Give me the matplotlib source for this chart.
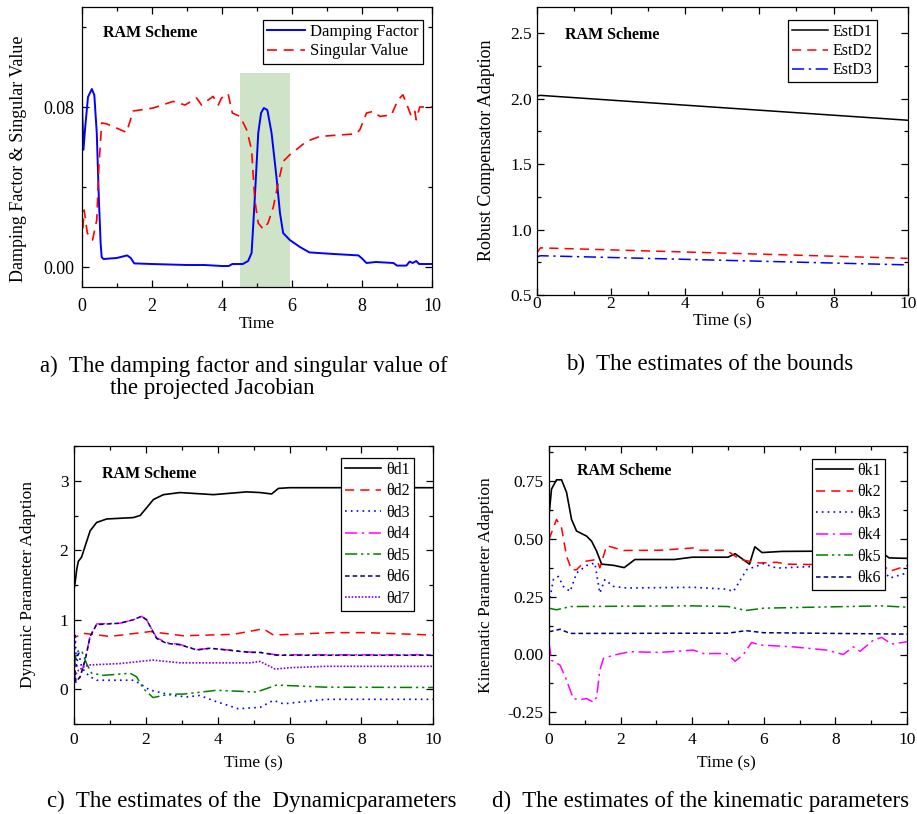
import matplotlib
matplotlib.use("Agg")
import matplotlib.pyplot as plt
from matplotlib.ticker import MultipleLocator

plt.rcParams["font.family"] = ["Liberation Serif", "DejaVu Serif"]
plt.rcParams["mathtext.fontset"] = "stix"

# ---- a) damping factor and singular value ----
t_df = [0, 0.02, 0.05, 0.1, 0.18, 0.29, 0.36, 0.43, 0.49, 0.54,
        0.57, 0.62, 1.0, 1.3, 1.4, 1.5, 2.0, 3.0, 3.5, 4.0,
        4.2, 4.3, 4.6, 4.75, 4.85, 4.94, 5.04, 5.12, 5.2, 5.3,
        5.42, 5.56, 5.66, 5.75, 5.94, 6.23, 6.5, 7.2, 7.9, 8.0,
        8.13, 8.4, 8.9, 9.0, 9.27, 9.36, 9.45, 9.55, 9.63, 10]
damping = [0.092, 0.075, 0.0586, 0.070, 0.085, 0.089, 0.086, 0.067, 0.034, 0.012,
           0.005, 0.004, 0.0045, 0.0058, 0.0045, 0.0018, 0.0015, 0.001, 0.001, 0.0005,
           0.0005, 0.0015, 0.0015, 0.003, 0.007, 0.034, 0.067, 0.077, 0.0795, 0.0785,
           0.067, 0.045, 0.027, 0.017, 0.0135, 0.010, 0.0073, 0.0065, 0.0058, 0.0043,
           0.002, 0.0025, 0.002, 0.0007, 0.0007, 0.0027, 0.002, 0.003, 0.0015, 0.0015]
t_sv = [0, 0.07, 0.16, 0.31, 0.43, 0.49, 0.57, 0.71, 1.28, 1.47,
        2.04, 2.61, 2.95, 3.28, 3.42, 3.75, 3.9, 3.99, 4.18, 4.3,
        4.52, 4.71, 4.85, 4.94, 5.04, 5.18, 5.32, 5.47, 5.61, 5.75,
        5.94, 6.42, 6.8, 7.84, 7.94, 8.13, 8.32, 8.51, 8.84, 9.03,
        9.17, 9.32, 9.41, 9.51, 9.55, 9.65, 10]
singular = [0.011, 0.0285, 0.017, 0.0135, 0.0235, 0.050, 0.072, 0.0716, 0.0673, 0.078,
            0.0795, 0.0828, 0.081, 0.0845, 0.081, 0.0853, 0.081, 0.0845, 0.0866, 0.077,
            0.0753, 0.0686, 0.0586, 0.0336, 0.022, 0.0189, 0.022, 0.030, 0.042, 0.0528,
            0.0561, 0.0628, 0.0653, 0.0666, 0.0686, 0.077, 0.0778, 0.0753, 0.076, 0.0836,
            0.0861, 0.0795, 0.0753, 0.0778, 0.0736, 0.08, 0.08]
span_t = [4.52, 5.96]
span_top = 0.097

# ---- b) bounds ----
t_b = [0, 0.1, 10]
est_d1 = [2.02, 2.025, 1.835]
est_d2 = [0.82, 0.86, 0.78]
est_d3 = [0.79, 0.80, 0.73]

# ---- c) dynamic parameters ----
t_d1 = [0, 0.03, 0.075, 0.12, 0.21, 0.31, 0.45, 0.63, 0.91, 1.65, 1.84,
        2.02, 2.21, 2.49, 2.95, 3.88, 4.81, 5.18, 5.5, 5.69, 6.0, 10]
th_d1 = [1.43, 1.53, 1.72, 1.84, 1.90, 2.06, 2.28, 2.40, 2.45, 2.47, 2.50,
         2.61, 2.73, 2.80, 2.83, 2.80, 2.84, 2.83, 2.81, 2.89, 2.90, 2.90]
t_d2 = [0, 0.03, 0.08, 0.26, 1.0, 2.12, 3.04, 4.43, 5.27, 5.55, 7.2, 8.14, 10]
th_d2 = [0.83, 0.75, 0.76, 0.805, 0.76, 0.83, 0.77, 0.79, 0.87, 0.78, 0.815, 0.815, 0.78]
t_d3 = [0, 0.03, 0.07, 0.12, 0.2, 0.3, 0.45, 0.63, 1.65, 1.84, 2.1,
        2.76, 3.14, 3.5, 3.97, 4.57, 5.18, 5.55, 5.83, 7.0, 10]
th_d3 = [0.4, 0.8, 0.3, 0.55, 0.35, 0.25, 0.18, 0.13, 0.13, 0.08, -0.01,
         -0.09, -0.11, -0.09, -0.18, -0.28, -0.26, -0.16, -0.21, -0.145, -0.145]
t_d46 = [0, 0.05, 0.17, 0.31, 0.45, 0.63, 1.28, 1.65, 1.88, 2.02,
         2.3, 2.58, 2.95, 3.42, 3.79, 4.9, 5.18, 5.64, 10]
th_d4 = [0.3, 0.12, 0.17, 0.42, 0.77, 0.94, 0.95, 1.0, 1.05, 1.0,
         0.74, 0.67, 0.645, 0.57, 0.59, 0.535, 0.53, 0.495, 0.495]
th_d6 = [0.6, 0.1, 0.18, 0.42, 0.76, 0.93, 0.95, 1.0, 1.05, 1.0,
         0.73, 0.66, 0.64, 0.565, 0.59, 0.53, 0.53, 0.49, 0.49]
t_d5 = [0, 0.07, 0.21, 0.35, 0.49, 0.82, 1.56, 1.74, 1.93, 2.2,
        2.67, 3.04, 3.97, 5.08, 5.64, 7.0, 10]
th_d5 = [0.32, 0.54, 0.56, 0.37, 0.23, 0.2, 0.23, 0.18, 0.01, -0.12,
         -0.07, -0.07, -0.015, -0.04, 0.06, 0.03, 0.025]
t_d7 = [0, 0.12, 0.26, 0.45, 1.28, 2.2, 2.95, 4.9, 5.18, 5.6, 6.0, 7.0, 10]
th_d7 = [0.18, 0.27, 0.32, 0.35, 0.37, 0.42, 0.38, 0.38, 0.40, 0.29, 0.31, 0.33, 0.33]

# ---- d) kinematic parameters ----
t_k1 = [0, 0.07, 0.21, 0.35, 0.49, 0.63, 0.77, 1.05, 1.19, 1.33, 1.47, 1.8, 2.1,
        2.4, 3.5, 4.0, 5.0, 5.2, 5.6, 5.75, 5.95, 6.5, 7.5, 9.3, 9.5, 10]
th_k1 = [0.598, 0.714, 0.754, 0.754, 0.70, 0.583, 0.533, 0.511, 0.489, 0.446, 0.39, 0.385, 0.375,
         0.41, 0.41, 0.42, 0.42, 0.435, 0.39, 0.465, 0.44, 0.445, 0.446, 0.44, 0.417, 0.415]
t_k2 = [0, 0.21, 0.35, 0.49, 0.63, 0.77, 1.0, 1.33, 1.42, 1.61, 2.08, 3.1,
        4.03, 4.2, 4.96, 5.34, 5.7, 5.89, 6.36, 6.64, 7.48, 9.3, 9.52, 10]
th_k2 = [0.497, 0.583, 0.547, 0.424, 0.366, 0.366, 0.402, 0.41, 0.374, 0.47, 0.449, 0.45,
         0.46, 0.45, 0.45, 0.41, 0.40, 0.395, 0.398, 0.39, 0.388, 0.39, 0.359, 0.384]
t_k3 = [0, 0.12, 0.26, 0.4, 0.59, 0.77, 1.05, 1.28, 1.42, 1.56, 1.8,
        2.17, 4.03, 4.96, 5.15, 5.52, 5.99, 6.36, 7.38, 9.3, 9.52, 10]
th_k3 = [0.22, 0.323, 0.337, 0.294, 0.272, 0.352, 0.384, 0.395, 0.265, 0.323, 0.294,
         0.287, 0.29, 0.282, 0.272, 0.366, 0.392, 0.373, 0.38, 0.37, 0.33, 0.352]
t_k4 = [0, 0.07, 0.31, 0.49, 0.68, 0.87, 1.05, 1.24, 1.33, 1.42,
        1.52, 1.8, 2.26, 3.1, 4.03, 4.31, 4.96, 5.2, 5.43, 5.66,
        5.89, 6.82, 7.76, 8.22, 8.5, 8.69, 9.06, 9.29, 9.57, 10]
th_k4 = [0.048, -0.025, -0.046, -0.111, -0.191, -0.195, -0.19, -0.206, -0.184, -0.068,
         -0.017, -0.003, 0.012, 0.009, 0.019, 0.004, 0.004, -0.029, 0.0, 0.052,
         0.041, 0.033, 0.019, 0.0, 0.033, 0.014, 0.062, 0.074, 0.045, 0.055]
t_k5 = [0, 0.21, 0.6, 4.0, 5.0, 5.5, 6.0, 9.3, 10]
th_k5 = [0.20, 0.193, 0.207, 0.21, 0.207, 0.19, 0.20, 0.21, 0.204]
t_k6 = [0, 0.31, 0.59, 5.0, 5.5, 6.0, 10]
th_k6 = [0.098, 0.109, 0.091, 0.092, 0.103, 0.094, 0.088]

W, H = 917, 814
fig = plt.figure(figsize=(W / 100, H / 100), dpi=100)


def box(l, t, r, b):
    # pixel box -> figure fraction
    return [l / W, 1 - b / H, (r - l) / W, (b - t) / H]


def style(ax, ymajor, yminor, xpad, ypad, fs):
    ax.set_xlim(0, 10)
    ax.xaxis.set_major_locator(MultipleLocator(2))
    ax.xaxis.set_minor_locator(MultipleLocator(1))
    ax.yaxis.set_major_locator(MultipleLocator(ymajor))
    ax.yaxis.set_minor_locator(MultipleLocator(yminor))
    ax.tick_params(which="both", direction="in", top=True, right=True, width=0.9)
    ax.tick_params(which="major", length=5, labelsize=fs)
    ax.tick_params(which="minor", length=3)
    ax.tick_params(axis="x", pad=xpad)
    ax.tick_params(axis="y", pad=ypad)
    for s in ax.spines.values():
        s.set_linewidth(0.9)


def legend(ax, x, y, fs, spacing=0.2):
    leg = ax.legend(loc="upper right", bbox_to_anchor=(x, y), fontsize=fs,
                    fancybox=False, edgecolor="black", framealpha=1,
                    handlelength=2.3, handletextpad=0.3, borderpad=0.25,
                    labelspacing=spacing, borderaxespad=0)
    leg.get_frame().set_linewidth(0.9)


def ram(ax, x, y):
    ax.text(x, y, "RAM Scheme", transform=ax.transAxes, fontsize=11.5,
            fontweight="bold", ha="left", va="center")


dash = (0, (6, 4))
dot = (0, (1, 2.5))
dashdot = (0, (8, 3, 1.5, 3))
dashdotdot = (0, (8, 2.5, 1.5, 2.5, 1.5, 2.5))
shortdash = (0, (3, 2))
shortdot = (0, (1, 1))

# a)
ax = fig.add_axes(box(81.7, 7, 432, 287))
ax.fill_between(span_t, -0.01, span_top, color="#cfe3c8", lw=0)
ax.plot(t_df, damping, color="#0000ff", lw=1.4, label="Damping Factor")
ax.plot(t_sv, singular, color="#ff0000", lw=1.2, ls=dash, label="Singular Value")
ax.set_ylim(-0.01, 0.13)
style(ax, 0.08, 0.04, 8, 5.5, 13)
ax.yaxis.set_major_formatter(matplotlib.ticker.FormatStrFormatter("%.2f"))
legend(ax, 0.974, 0.954, 12)
ram(ax, 0.062, 0.907)
fig.text(19 / W, 1 - 159 / H, "Damping Factor & Singular Value", rotation=90,
         ha="center", va="center", fontsize=13)
fig.text(257 / W, 1 - 324 / H, "Time", ha="center", va="center", fontsize=12.5)

# b)
ax = fig.add_axes(box(536.7, 7, 907.7, 295))
ax.plot(t_b, est_d1, color="black", lw=1.1, label="EstD1")
ax.plot(t_b, est_d2, color="#ff0000", lw=1.1, ls=dash, label="EstD2")
ax.plot(t_b, est_d3, color="#0000ff", lw=1.1, ls=dashdot, label="EstD3")
ax.set_ylim(0.5, 2.7)
style(ax, 0.5, 0.25, 0.5, 3.5, 12.5)
ax.yaxis.set_major_formatter(matplotlib.ticker.FormatStrFormatter("%.1f"))
legend(ax, 0.917, 0.955, 11.5)
ram(ax, 0.076, 0.903)
fig.text(486.7 / W, 1 - 150 / H, "Robust Compensator Adaption", rotation=90,
         ha="center", va="center", fontsize=13)
fig.text(722 / W, 1 - 321.7 / H, "Time (s)", ha="center", va="center", fontsize=12.5)

# c)
ax = fig.add_axes(box(74, 446, 433.3, 724))
ax.plot(t_d1, th_d1, color="black", lw=1.2, label="θd1")
ax.plot(t_d2, th_d2, color="#ff0000", lw=1.1, ls=dash, label="θd2")
ax.plot(t_d3, th_d3, color="#0000ff", lw=1.2, ls=dot, label="θd3")
ax.plot(t_d46, th_d4, color="#ff00ff", lw=1.1, ls=dashdot, label="θd4")
ax.plot(t_d5, th_d5, color="#008000", lw=1.1, ls=dashdotdot, label="θd5")
ax.plot(t_d46, th_d6, color="#000080", lw=1.1, ls=shortdash, label="θd6")
ax.plot(t_d7, th_d7, color="#8000ff", lw=1.2, ls=shortdot, label="θd7")
ax.set_ylim(-0.5, 3.5)
style(ax, 1, 0.5, 6, 4, 12.5)
legend(ax, 0.946, 0.957, 11.5, spacing=0.34)
ram(ax, 0.077, 0.898)
fig.text(28 / W, 1 - 584 / H, "Dynamic Parameter Adaption", rotation=90,
         ha="center", va="center", fontsize=12.5)
fig.text(253 / W, 1 - 763 / H, "Time (s)", ha="center", va="center", fontsize=12.5)

# d)
ax = fig.add_axes(box(549, 446, 907, 724))
ax.plot(t_k1, th_k1, color="black", lw=1.2, label="θk1")
ax.plot(t_k2, th_k2, color="#ff0000", lw=1.1, ls=dash, label="θk2")
ax.plot(t_k3, th_k3, color="#0000ff", lw=1.2, ls=dot, label="θk3")
ax.plot(t_k4, th_k4, color="#ff00ff", lw=1.1, ls=dashdot, label="θk4")
ax.plot(t_k5, th_k5, color="#008000", lw=1.1, ls=dashdotdot, label="θk5")
ax.plot(t_k6, th_k6, color="#000080", lw=1.1, ls=shortdash, label="θk6")
ax.set_ylim(-0.3, 0.9)
style(ax, 0.25, 0.125, 5.5, 4, 12.5)
ax.yaxis.set_major_formatter(matplotlib.ticker.FormatStrFormatter("%.2f"))
legend(ax, 0.9385, 0.953, 11.5, spacing=0.34)
ram(ax, 0.077, 0.91)
fig.text(486 / W, 1 - 585 / H, "Kinematic Parameter Adaption", rotation=90,
         ha="center", va="center", fontsize=12.5)
fig.text(726.7 / W, 1 - 763 / H, "Time (s)", ha="center", va="center", fontsize=12.5)

# captions
fig.text(40 / W, 1 - 372 / H, "a)  The damping factor and singular value of",
         ha="left", va="baseline", fontsize=16.5)
fig.text(110 / W, 1 - 394 / H, "the projected Jacobian",
         ha="left", va="baseline", fontsize=16.5)
fig.text(566 / W, 1 - 370 / H, "b)  The estimates of the bounds",
         ha="left", va="baseline", fontsize=16.5)
fig.text(46.7 / W, 1 - 806.5 / H, "c)  The estimates of the  Dynamicparameters",
         ha="left", va="baseline", fontsize=16.5)
fig.text(491.7 / W, 1 - 806.5 / H, "d)  The estimates of the kinematic parameters",
         ha="left", va="baseline", fontsize=16.5)

fig.savefig("out.png", dpi=100)
